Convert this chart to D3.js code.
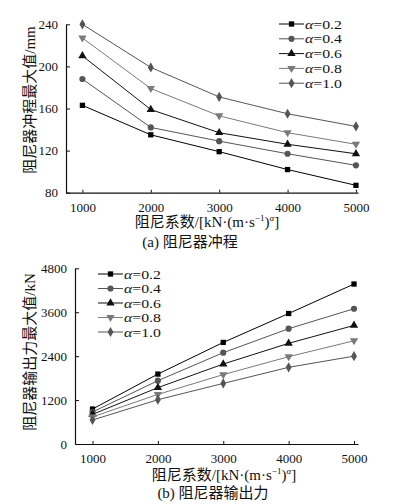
<!DOCTYPE html>
<html>
<head>
<meta charset="utf-8">
<title>damper</title>
<script src="https://cdn.jsdelivr.net/npm/d3@7"></script>
<style>
  body { margin: 0; background: #fff; }
  svg text { font-family: 'Liberation Serif', 'Noto Sans CJK SC', serif; fill: #111; }
</style>
</head>
<body>
<div id="app"></div>
<script>
// 阻尼系数
var coeffs = [1000, 2000, 3000, 4000, 5000];
var alphas = ['0.2', '0.4', '0.6', '0.8', '1.0'];

// (a) 阻尼器冲程最大值 /mm
var stroke02 = [163, 135, 119, 102, 87];
var stroke04 = [188, 142, 129, 117, 106];
var stroke06 = [210, 159, 137, 126, 117];
var stroke08 = [227, 179, 153, 137, 126];
var stroke10 = [240, 199, 171, 155, 143];

// (b) 阻尼器输出力最大值 /kN
var force02 = [955, 1910, 2775, 3565, 4370];
var force04 = [875, 1730, 2495, 3150, 3695];
var force06 = [810, 1540, 2185, 2750, 3240];
var force08 = [740, 1355, 1895, 2385, 2820];
var force10 = [655, 1210, 1655, 2095, 2400];

var yTicksA = [80, 120, 160, 200, 240];
var yTicksB = [0, 1200, 2400, 3600, 4800];

var colors = ['#000', '#555', '#111', '#7a7a7a', '#555'];
var downTri = {
  draw: function (ctx, size) {
    var s = Math.sqrt(size / 0.433) / 2;
    ctx.moveTo(-s, -s * 0.6);
    ctx.lineTo(s, -s * 0.6);
    ctx.lineTo(0, s * 1.1);
    ctx.closePath();
  }
};
var symbols = [d3.symbolSquare, d3.symbolCircle, d3.symbolTriangle, downTri, d3.symbolDiamond];
var symSizes = [28, 30, 30, 30, 30];

var svg = d3.select('#app').append('svg').attr('width', 398).attr('height', 504);

function drawPanel(o) {
  var g = svg.append('g');
  var x = d3.scaleLinear().domain(o.xDomain).range(o.xRange);
  var y = d3.scaleLinear().domain(o.yDomain).range(o.yRange);

  var ax = g.append('g').attr('transform', 'translate(0,' + o.yRange[0] + ')')
    .call(d3.axisBottom(x).tickValues(coeffs).tickFormat(d3.format('d'))
      .tickSizeInner(-3).tickSizeOuter(0).tickPadding(8));
  var ay = g.append('g').attr('transform', 'translate(' + o.xRange[0] + ',0)')
    .call(d3.axisLeft(y).tickValues(o.yTicks).tickFormat(d3.format('d'))
      .tickSizeInner(-4).tickSizeOuter(0).tickPadding(8));
  [ax, ay].forEach(function (a) {
    a.select('.domain').attr('stroke', '#111').attr('stroke-width', 1.2);
    a.selectAll('.tick line').attr('stroke', '#111');
    a.selectAll('.tick text').attr('font-size', 13).attr('fill', '#111')
      .style('font-family', "'Liberation Serif', serif");
  });
  ax.selectAll('.tick text').attr('dy', '0.85em');

  var line = d3.line().x(function (d, i) { return x(coeffs[i]); }).y(function (d) { return y(d); });

  o.series.forEach(function (s, k) {
    g.append('path').datum(s).attr('d', line)
      .attr('fill', 'none').attr('stroke', colors[k]).attr('stroke-width', 1);
    g.selectAll('.m' + k).data(s).enter().append('path')
      .attr('transform', function (d, i) { return 'translate(' + x(coeffs[i]) + ',' + y(d) + ')'; })
      .attr('d', d3.symbol().type(symbols[k]).size(symSizes[k]))
      .attr('fill', colors[k]);
  });

  // legend
  alphas.forEach(function (a, k) {
    var ly = o.legY + k * o.legDy;
    var lg = g.append('g');
    lg.append('line').attr('x1', o.legX).attr('x2', o.legX + 25).attr('y1', ly).attr('y2', ly)
      .attr('stroke', colors[k]).attr('stroke-width', 1);
    lg.append('path').attr('transform', 'translate(' + (o.legX + 12.5) + ',' + ly + ')')
      .attr('d', d3.symbol().type(symbols[k]).size(symSizes[k])).attr('fill', colors[k]);
    var t = lg.append('text').attr('x', o.legX + 26).attr('y', ly).attr('dy', '0.35em')
      .attr('font-size', 13).attr('textLength', 37).attr('lengthAdjust', 'spacingAndGlyphs');
    t.append('tspan').attr('font-style', 'italic').text('α');
    t.append('tspan').text('=' + a);
  });

  // y title
  g.append('text').attr('transform', 'translate(' + o.yTitleX + ',' + o.yTitleY + ') rotate(-90)')
    .attr('text-anchor', 'middle').attr('dy', '0.35em').attr('font-size', 15).text(o.yTitle);

  // x title
  var xt = g.append('text').attr('x', o.xTitleX).attr('y', o.xTitleY)
    .attr('text-anchor', 'middle').attr('font-size', 15);
  xt.append('tspan').text('阻尼系数/[kN·(m·s');
  xt.append('tspan').attr('font-size', 9).attr('dy', -6).text('−1');
  xt.append('tspan').attr('dy', 6).text(')');
  xt.append('tspan').attr('font-size', 9).attr('dy', -6).attr('font-style', 'italic').text('α');
  xt.append('tspan').attr('dy', 6).text(']');

  g.append('text').attr('x', o.capX).attr('y', o.capY).attr('text-anchor', 'middle')
    .attr('font-size', 15).text(o.caption);
}

drawPanel({
  xDomain: [760, 5030], xRange: [66, 358],
  yDomain: [80, 240], yRange: [192.7, 24.3], yTicks: yTicksA,
  series: [stroke02, stroke04, stroke06, stroke08, stroke10],
  legX: 279, legY: 24, legDy: 14.8,
  yTitle: '阻尼器冲程最大值/mm', yTitleX: 30, yTitleY: 100,
  xTitleX: 207, xTitleY: 227,
  caption: '(a) 阻尼器冲程', capX: 190, capY: 247
});

drawPanel({
  xDomain: [732, 5061], xRange: [75, 358],
  yDomain: [0, 4800], yRange: [444, 268.3], yTicks: yTicksB,
  series: [force02, force04, force06, force08, force10],
  legX: 98, legY: 274, legDy: 14.5,
  yTitle: '阻尼器输出力最大值/kN', yTitleX: 30, yTitleY: 352,
  xTitleX: 224, xTitleY: 480,
  caption: '(b) 阻尼器输出力', capX: 213, capY: 498
});
</script>
</body>
</html>
